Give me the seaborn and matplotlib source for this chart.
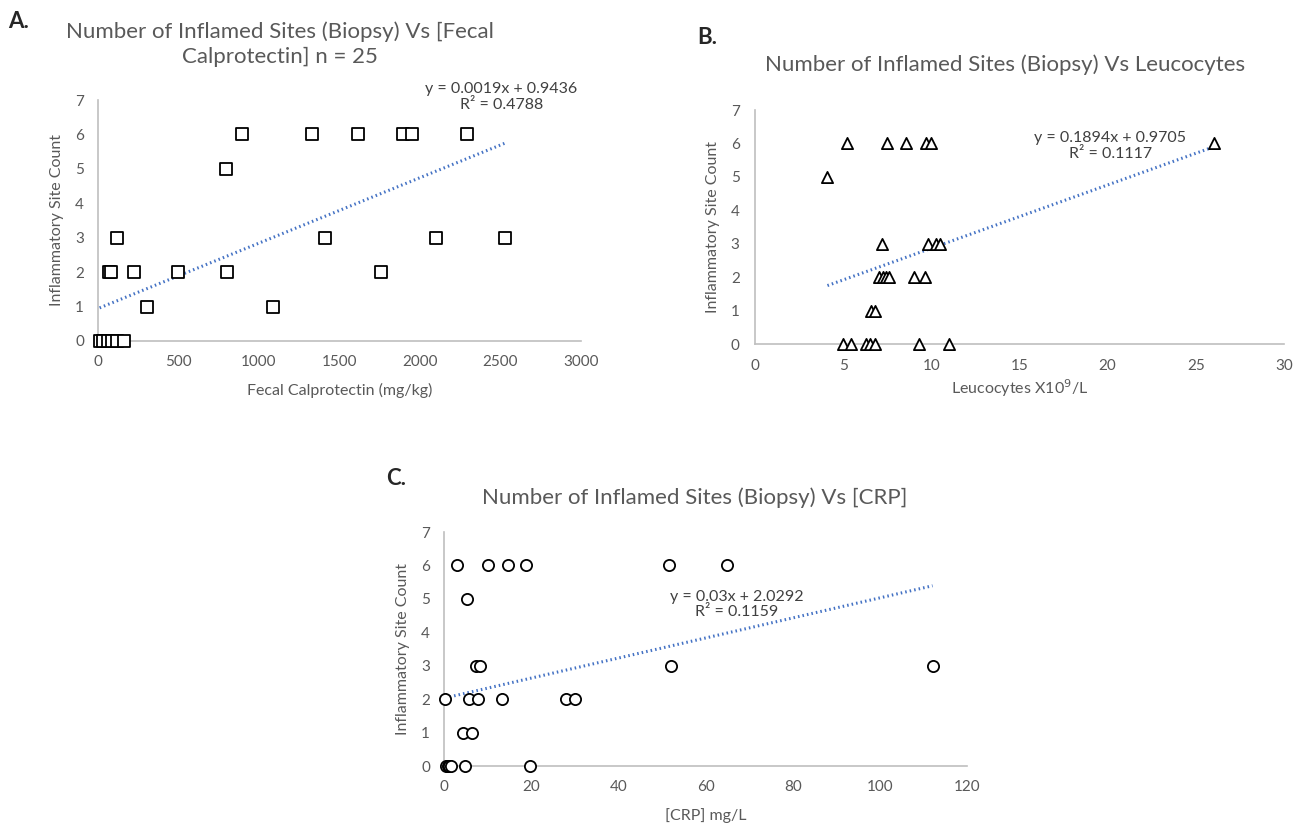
import numpy as np
import pandas as pd
import matplotlib.pyplot as plt
import seaborn as sns

# dados
calpro = [895, 1328, 1615, 1893, 1952, 2292, 793, 116, 1413, 2100, 2525,
          71, 81, 221, 499, 803, 1755, 304, 1088, 10, 30, 60, 90, 120, 160]
calpro_sites = [6, 6, 6, 6, 6, 6, 5, 3, 3, 3, 3,
                2, 2, 2, 2, 2, 2, 1, 1, 0, 0, 0, 0, 0, 0]

leuco = [5.22, 7.49, 8.59, 9.67, 10.0, 26.04, 4.11, 7.2, 9.8, 10.28, 10.5,
         7.06, 7.24, 7.42, 7.62, 9.02, 9.62, 6.59, 6.81,
         4.97, 5.42, 6.27, 6.52, 6.79, 9.31, 11.02]
leuco_sites = [6, 6, 6, 6, 6, 6, 5, 3, 3, 3, 3,
               2, 2, 2, 2, 2, 2, 1, 1,
               0, 0, 0, 0, 0, 0, 0]

crp = [3.0, 10.1, 14.7, 18.9, 51.7, 65.0, 5.3, 7.3, 8.2, 52.0, 112.1,
       0.26, 5.7, 7.8, 13.4, 27.9, 30.0, 4.3, 6.5,
       0.4, 0.9, 1.1, 1.5, 4.8, 19.7]
crp_sites = [6, 6, 6, 6, 6, 6, 5, 3, 3, 3, 3,
             2, 2, 2, 2, 2, 2, 1, 1,
             0, 0, 0, 0, 0, 0]

# coeficientes da linha de tendência (do rótulo do gráfico)
fits = {
    'A': (0.0019, 0.9436, '0.4788'),
    'B': (0.1894, 0.9705, '0.1117'),
    'C': (0.03, 2.0292, '0.1159'),
}

sns.set_style('white')
plt.rcParams['font.family'] = ['Lato', 'DejaVu Sans']

cinza = '#595959'
azul = '#4472C4'
W, H = 1302, 826

fig = plt.figure(figsize=(W / 100, H / 100), dpi=100)


def eixo(l, r, t, b):
    return fig.add_axes([l / W, 1 - b / H, (r - l) / W, (b - t) / H])


def painel(ax, x, y, marker, chave, xmax, xstep, xlabel, ticks, pos_eq):
    df = pd.DataFrame({'x': x, 'y': y})
    a, b0, r2 = fits[chave]
    xs = np.array([min(x), max(x)])
    linha = pd.DataFrame({'x': xs, 'y': a * xs + b0})
    sns.lineplot(data=linha, x='x', y='y', ax=ax, color=azul, lw=2.2,
                 linestyle=(0, (0.5, 1.0)), zorder=1)
    sns.scatterplot(data=df, x='x', y='y', ax=ax, marker=marker, s=65,
                    facecolor='white', edgecolor='black', linewidth=1.3,
                    zorder=3, clip_on=False)
    ax.set_xlim(0, xmax)
    ax.set_ylim(0, 7)
    ax.set_xticks(np.arange(0, xmax + 1, xstep))
    ax.set_yticks(range(0, 8))
    ax.set_xlabel(xlabel, color=cinza, fontsize=11.5, labelpad=10 if not ticks else 3)
    ax.set_ylabel('Inflammatory Site Count', color=cinza, fontsize=11.5, labelpad=8)
    sns.despine(ax=ax)
    for s in ['left', 'bottom']:
        ax.spines[s].set_color('#bfbfbf')
        ax.spines[s].set_linewidth(1.2)
    ax.tick_params(colors=cinza, labelsize=11, length=5 if ticks else 0,
                   width=1, color='#bfbfbf', pad=6 if ticks else 10)
    ax.text(pos_eq[0], pos_eq[1], f'y = {a}x + {b0}\nR² = {r2}', transform=ax.transAxes,
            ha='center', va='center', fontsize=11.5, color='#404040', linespacing=1.15)


axA = eixo(98, 581, 100, 341)
painel(axA, calpro, calpro_sites, 's', 'A', 3000, 500, 'Fecal Calprotectin (mg/kg)', False,
       (0.835, 1.012))
fig.text(280 / W, 1 - 44 / H, 'Number of Inflamed Sites (Biopsy) Vs [Fecal\nCalprotectin] n = 25',
         ha='center', va='center', fontsize=16, color=cinza, linespacing=1.3)

axB = eixo(755, 1284, 110, 344)
painel(axB, leuco, leuco_sites, '^', 'B', 30, 5, 'Leucocytes X10$^9$/L', True,
       (0.672, 0.845))
fig.text(1005 / W, 1 - 65 / H, 'Number of Inflamed Sites (Biopsy) Vs Leucocytes',
         ha='center', va='center', fontsize=16, color=cinza)

axC = eixo(444, 967, 532, 766)
painel(axC, crp, crp_sites, 'o', 'C', 120, 20, '[CRP] mg/L', False,
       (0.56, 0.69))
fig.text(695 / W, 1 - 498 / H, 'Number of Inflamed Sites (Biopsy) Vs [CRP]',
         ha='center', va='center', fontsize=16, color=cinza)

fig.text(8 / W, 1 - 22 / H, 'A.', fontsize=16, fontweight='bold', va='center')
fig.text(697 / W, 1 - 38 / H, 'B.', fontsize=16, fontweight='bold', va='center')
fig.text(386 / W, 1 - 478 / H, 'C.', fontsize=16, fontweight='bold', va='center')

fig.savefig('out.png', dpi=100, facecolor='white')
